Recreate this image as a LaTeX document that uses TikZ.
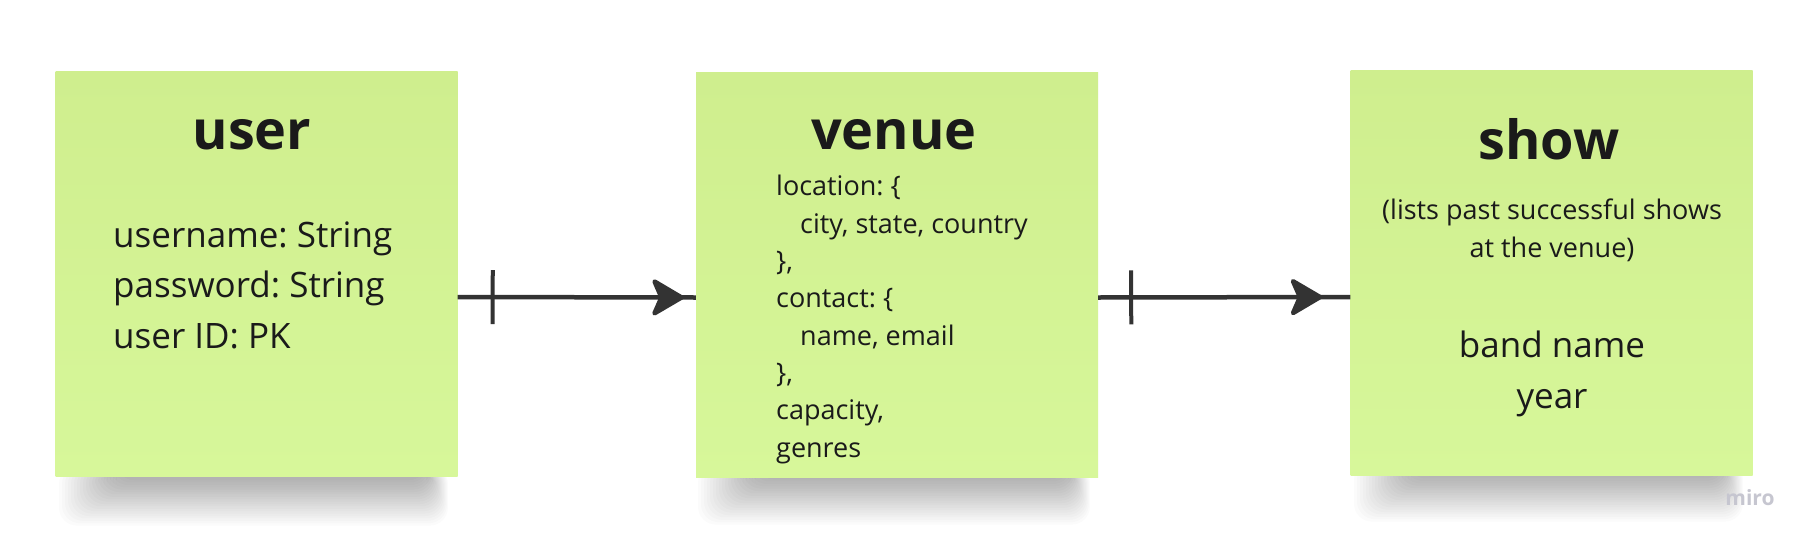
\documentclass[tikz,border=0pt]{standalone}
\usepackage{fontspec}
\setmainfont{Open Sans}
\usepackage{xcolor}
\usepackage{tikz}
\usetikzlibrary{arrows.meta,decorations.markings,calc}
\definecolor{stickygreen}{HTML}{D7F79A}
\definecolor{stickytop}{HTML}{CFEE8E}
\definecolor{inkdark}{HTML}{1A1A1A}
\definecolor{linkgray}{HTML}{333333}
\definecolor{mirogray}{HTML}{C6C6D0}
\frenchspacing

\tikzset{
  sticky/.style={rectangle,inner sep=0pt,minimum width=402pt,minimum height=405pt,top color=stickytop,bottom color=stickygreen},
  title/.style={font=\fontsize{54}{60}\selectfont\bfseries,text=inkdark,anchor=base,inner sep=0pt},
  bigtext/.style={font=\fontsize{35}{50.5}\selectfont,text=inkdark,inner sep=0pt},
  smalltext/.style={font=\fontsize{27}{37.3}\selectfont,text=inkdark,inner sep=0pt},
  relation/.style 2 args={draw=linkgray,line width=4.5pt,postaction={decorate},
    decoration={markings,
      mark=at position #1 with {\draw[line width=4pt,line cap=butt] (0,-27pt) -- (0,27pt);},
      mark=at position #2 with {\arrow{Stealth[length=36pt,width=42pt,inset=9pt,round]}}}}
}

\begin{document}
\begin{tikzpicture}[line join=round,x=1pt,y=-1pt]
\useasboundingbox (0,0) rectangle (1820,549);
\fill[white] (0,0) rectangle (1820,549);
\foreach \l/\r/\b in {56/457/478,695/1099/477,1351/1752/474}
  \foreach \k in {0,...,19}
    \fill[black,opacity=0.016,rounded corners=18pt] (\l+60-\k*3,\b-12) rectangle (\r-30+\k*1.1,\b+2+\k*2.4);
\node[sticky] (user) at (256.5,274) {};
\node[sticky] (venue) at (897,274.5) {};
\node[sticky] (show) at (1551.5,273) {};

% multi-line nodes: base anchor sits on the last line
\node[title] (user-title) at (252,149) {user};
\node[bigtext,align=left,anchor=base west] (user-attrs) at (113,348) {username: String\\password: String\\user ID: PK};

\node[title] (venue-title) at (894,149) {venue};
\node[smalltext,align=left,anchor=base west] (venue-attrs) at (776,457) {location: \{\\\hspace*{24pt}city, state, country\\\},\\contact: \{\\\hspace*{24pt}name, email\\\},\\capacity,\\genres};

\node[title] (show-title) at (1549,159) {show};
\node[smalltext,align=center,anchor=base] (show-note) at (1552,257) {(lists past successful shows\\at the venue)};
\node[bigtext,align=center,anchor=base] (show-attrs) at (1552,408) {band name\\year};

\path[relation={35pt}{-12pt}] ([yshift=-23pt]user.east) -- ([yshift=-23pt]venue.west);
\path[relation={33pt}{-28pt}] ([yshift=-23pt]venue.east) -- ([yshift=-24pt]show.west);

\node[font=\fontsize{21}{21}\selectfont\bfseries,text=mirogray,anchor=base] (miro) at (1750,505) {miro};
\end{tikzpicture}
\end{document}
